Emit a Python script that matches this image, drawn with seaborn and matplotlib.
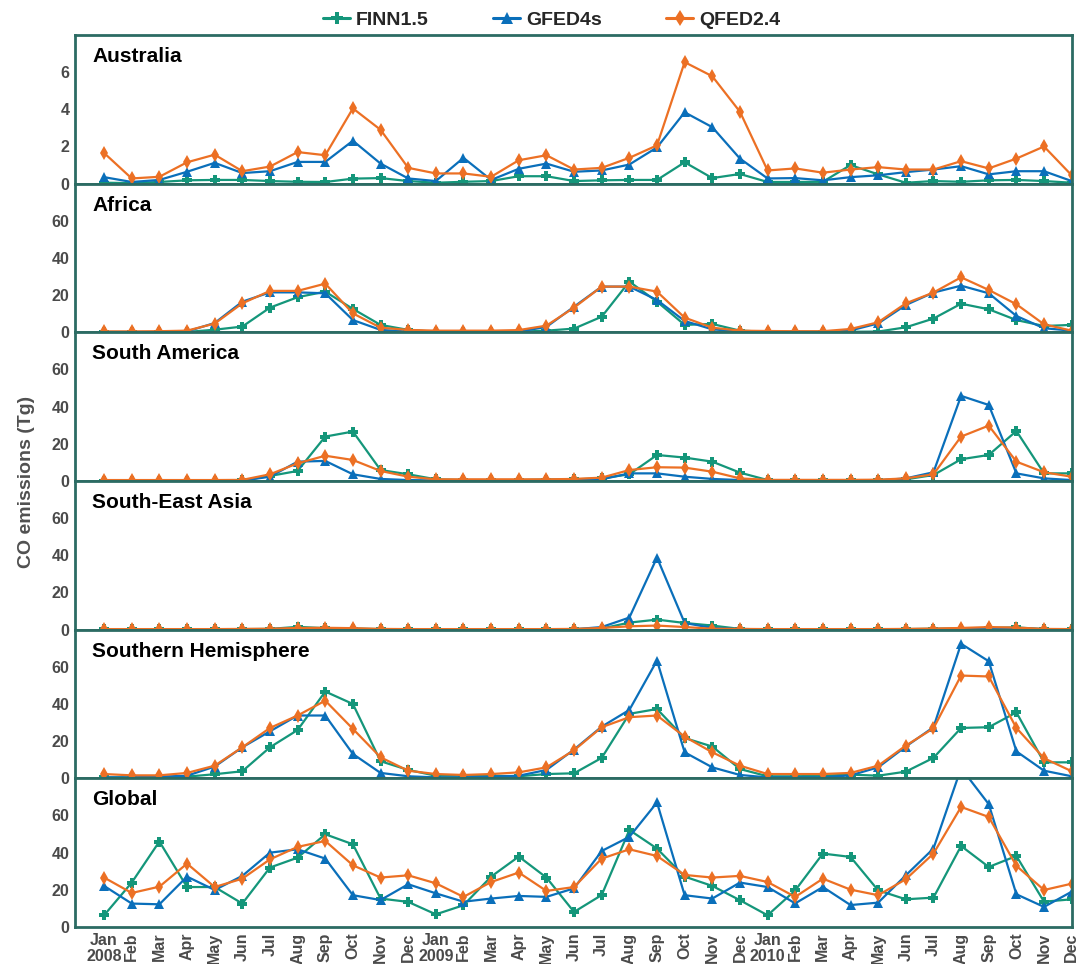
import numpy as np
import pandas as pd
import matplotlib
matplotlib.use("Agg")
import matplotlib.pyplot as plt
import seaborn as sns

# ---- data: monthly CO emissions (Tg), Jan 2008 - Dec 2010 ----
months = ["Jan", "Feb", "Mar", "Apr", "May", "Jun",
          "Jul", "Aug", "Sep", "Oct", "Nov", "Dec"]
years = [2008, 2009, 2010]
datasets = ["FINN1.5", "GFED4s", "QFED2.4"]
regions = ["Australia", "Africa", "South America", "South-East Asia",
           "Southern Hemisphere", "Global"]

finn_aus = [0.05, 0.03, 0.09, 0.18, 0.2, 0.2, 0.14, 0.1, 0.09, 0.27, 0.3, 0.14,
            0.05, 0.1, 0.14, 0.4, 0.4, 0.14, 0.18, 0.2, 0.2, 1.15, 0.3, 0.52,
            0.09, 0.09, 0.1, 1.0, 0.5, 0.05, 0.14, 0.1, 0.18, 0.2, 0.14, 0.05]
gfed_aus = [0.35, 0.09, 0.2, 0.64, 1.12, 0.57, 0.67, 1.17, 1.17, 2.31, 1.08, 0.28,
            0.14, 1.39, 0.2, 0.8, 1.08, 0.64, 0.71, 1.03, 1.95, 3.84, 3.04, 1.35,
            0.28, 0.3, 0.18, 0.35, 0.45, 0.62, 0.76, 0.94, 0.5, 0.67, 0.67, 0.14]
qfed_aus = [1.65, 0.28, 0.37, 1.15, 1.56, 0.67, 0.92, 1.7, 1.53, 4.05, 2.9, 0.85,
            0.55, 0.55, 0.37, 1.26, 1.53, 0.76, 0.85, 1.39, 2.06, 6.54, 5.78, 3.87,
            0.71, 0.82, 0.59, 0.76, 0.89, 0.76, 0.76, 1.21, 0.82, 1.35, 2.0, 0.45]

finn_afr = [0.1, 0.1, 0.1, 0.2, 1.4, 3.1, 13.3, 18.9, 21.9, 12.6, 4.0, 1.3,
            0.3, 0.3, 0.3, 0.3, 0.9, 2.0, 8.4, 27.3, 16.5, 4.0, 4.5, 0.9,
            0.3, 0.3, 0.3, 0.3, 0.4, 2.7, 7.4, 15.4, 12.4, 6.6, 3.4, 4.0]
gfed_afr = [0.2, 0.2, 0.2, 0.5, 5.0, 16.5, 21.5, 21.5, 21.0, 6.6, 1.3, 0.4,
            0.2, 0.2, 0.2, 0.4, 2.9, 13.8, 24.6, 24.6, 17.4, 6.1, 1.6, 0.5,
            0.2, 0.2, 0.2, 1.0, 4.8, 14.7, 21.4, 25.1, 21.0, 8.8, 2.2, 0.9]
qfed_afr = [0.5, 0.5, 0.6, 0.9, 4.7, 15.6, 22.3, 22.3, 26.2, 10.2, 2.5, 1.3,
            0.9, 0.9, 0.9, 1.2, 3.6, 13.3, 24.6, 24.6, 21.9, 7.9, 2.5, 0.9,
            0.7, 0.6, 0.6, 1.8, 5.4, 15.6, 21.4, 29.6, 22.8, 15.1, 4.3, 0.9]

finn_sam = [0.2, 0.2, 0.2, 0.2, 0.2, 0.3, 2.7, 5.4, 23.9, 26.6, 5.9, 3.6,
            0.9, 0.5, 0.5, 0.5, 0.8, 0.9, 1.4, 3.6, 14.0, 12.6, 10.4, 4.5,
            0.5, 0.4, 0.4, 0.4, 0.5, 0.9, 3.2, 11.7, 14.0, 26.9, 4.1, 4.1]
gfed_sam = [0.1, 0.1, 0.1, 0.1, 0.1, 0.2, 2.3, 10.4, 10.8, 3.6, 1.1, 0.5,
            0.3, 0.2, 0.2, 0.2, 0.3, 0.5, 0.9, 4.1, 4.1, 2.3, 1.1, 0.5,
            0.2, 0.2, 0.2, 0.2, 0.3, 1.4, 4.7, 45.8, 40.9, 4.1, 1.4, 0.5]
qfed_sam = [0.5, 0.5, 0.5, 0.5, 0.5, 0.6, 3.6, 9.5, 13.6, 11.3, 5.4, 2.3,
            0.9, 0.9, 0.9, 0.9, 0.9, 1.1, 1.8, 5.9, 7.4, 7.2, 5.0, 1.4,
            0.6, 0.6, 0.6, 0.6, 0.7, 1.4, 3.6, 23.9, 29.8, 10.4, 4.7, 2.3]

finn_sea = [0.1, 0.1, 0.1, 0.1, 0.2, 0.3, 0.4, 1.5, 0.8, 0.6, 0.3, 0.2,
            0.1, 0.1, 0.1, 0.1, 0.2, 0.3, 0.6, 3.8, 5.4, 3.6, 2.2, 0.4,
            0.1, 0.1, 0.1, 0.1, 0.2, 0.3, 0.5, 0.6, 0.9, 1.2, 0.3, 0.1]
gfed_sea = [0.1, 0.1, 0.1, 0.1, 0.1, 0.2, 0.3, 0.6, 0.6, 0.4, 0.2, 0.1,
            0.1, 0.1, 0.1, 0.1, 0.1, 0.2, 1.4, 6.5, 38.8, 3.6, 0.9, 0.3,
            0.1, 0.1, 0.1, 0.1, 0.1, 0.2, 0.3, 0.4, 0.8, 0.9, 0.2, 0.1]
qfed_sea = [0.3, 0.3, 0.3, 0.3, 0.3, 0.4, 0.5, 0.9, 1.0, 0.8, 0.4, 0.3,
            0.3, 0.3, 0.3, 0.3, 0.3, 0.4, 0.9, 1.8, 2.2, 1.4, 0.5, 0.4,
            0.3, 0.3, 0.3, 0.3, 0.3, 0.4, 0.6, 0.9, 1.4, 1.1, 0.4, 0.3]

finn_sh = [0.5, 0.5, 0.5, 0.9, 2.2, 3.8, 16.7, 26.0, 46.7, 40.0, 9.2, 4.5,
           1.4, 1.4, 1.4, 1.1, 2.3, 2.7, 11.0, 34.7, 37.3, 21.7, 17.1, 5.0,
           1.1, 1.1, 1.4, 2.0, 1.4, 3.6, 11.0, 27.1, 27.5, 35.5, 8.6, 8.6]
gfed_sh = [0.5, 0.5, 0.9, 1.4, 6.3, 16.7, 25.3, 33.8, 33.8, 13.1, 2.9, 1.1,
           0.5, 0.5, 0.9, 1.4, 4.5, 15.5, 27.8, 36.8, 63.4, 14.0, 5.9, 1.8,
           0.5, 0.5, 0.5, 1.6, 5.9, 17.1, 27.5, 72.4, 63.0, 14.5, 4.1, 1.1]
qfed_sh = [2.3, 1.6, 1.6, 2.9, 6.8, 16.7, 27.1, 33.8, 41.8, 26.6, 11.3, 4.1,
           2.3, 1.8, 2.3, 3.2, 5.9, 15.1, 27.5, 32.9, 33.8, 22.4, 14.0, 6.8,
           2.3, 2.3, 2.3, 2.9, 6.8, 17.6, 26.9, 55.3, 54.8, 27.1, 10.8, 3.8]

finn_glb = [6.3, 23.9, 46.0, 21.5, 21.5, 12.6, 32.0, 37.3, 49.9, 44.5, 15.3, 13.5,
            6.8, 11.7, 27.1, 37.9, 26.6, 8.1, 17.2, 52.2, 42.2, 27.1, 22.1, 14.4,
            6.3, 19.7, 39.5, 37.7, 19.7, 14.9, 15.8, 43.6, 32.3, 38.2, 13.6, 14.9]
gfed_glb = [22.1, 12.6, 12.2, 27.1, 19.9, 27.5, 40.0, 41.8, 36.8, 17.1, 14.5, 23.0,
            18.1, 13.6, 15.3, 16.7, 16.2, 20.8, 40.9, 48.5, 67.0, 17.1, 15.3, 23.9,
            21.5, 12.7, 21.5, 11.8, 13.1, 27.8, 42.2, 85.5, 66.1, 17.6, 10.8, 19.0]
qfed_glb = [26.6, 18.3, 21.7, 34.1, 21.5, 26.0, 36.4, 43.1, 46.3, 33.2, 26.6, 27.8,
            23.5, 16.2, 24.2, 29.3, 19.4, 21.5, 36.8, 41.8, 38.2, 28.0, 26.6, 27.5,
            24.2, 16.2, 26.0, 20.1, 17.1, 25.7, 39.5, 64.6, 59.2, 32.9, 19.9, 23.3]

series = {
    "Australia": (finn_aus, gfed_aus, qfed_aus),
    "Africa": (finn_afr, gfed_afr, qfed_afr),
    "South America": (finn_sam, gfed_sam, qfed_sam),
    "South-East Asia": (finn_sea, gfed_sea, qfed_sea),
    "Southern Hemisphere": (finn_sh, gfed_sh, qfed_sh),
    "Global": (finn_glb, gfed_glb, qfed_glb),
}

# long-form table
rows = []
for reg in regions:
    for name, vals in zip(datasets, series[reg]):
        for i, v in enumerate(vals):
            rows.append({"region": reg, "dataset": name, "month": i, "co": v})
df = pd.DataFrame(rows)

# ---- style ----
sns.set_theme(style="white")
plt.rcParams["font.family"] = ["Liberation Sans", "DejaVu Sans"]

palette = {"FINN1.5": "#14967a", "GFED4s": "#0a6fba", "QFED2.4": "#ec7024"}
markers = {"FINN1.5": "P", "GFED4s": "^", "QFED2.4": "d"}
frame_color = "#2c6b63"
tick_color = "#4a4a4a"

fig, axes = plt.subplots(6, 1, figsize=(10.88, 9.64), dpi=100, sharex=True)
fig.subplots_adjust(left=0.069, right=0.985, top=0.9637, bottom=0.0384, hspace=0)

handles, labels = None, None
for k, (ax, reg) in enumerate(zip(axes, regions)):
    sub = df[df["region"] == reg]
    sns.lineplot(data=sub, x="month", y="co", hue="dataset", style="dataset",
                 hue_order=datasets, style_order=datasets,
                 palette=palette, markers=markers, dashes=False,
                 linewidth=1.6, markersize=7, markeredgewidth=0,
                 legend=(k == 0), ax=ax)
    if k == 0:
        handles, labels = ax.get_legend_handles_labels()
        ax.get_legend().remove()
    if reg == "Australia":
        ax.set_ylim(0, 8)
        ax.set_yticks([0, 2, 4, 6])
    else:
        ax.set_ylim(0, 80)
        ax.set_yticks([0, 20, 40, 60])
    ax.set_xlim(-1.05, 35)
    ax.set_xlabel("")
    ax.set_ylabel("")
    ax.text(0.017, 0.855, reg, transform=ax.transAxes, fontsize=15,
            fontweight="bold", color="black", va="center", ha="left")
    for s in ax.spines.values():
        s.set_color(frame_color)
        s.set_linewidth(2)
    ax.tick_params(axis="both", length=0, colors=tick_color, labelsize=11.5, pad=4)
    for t in ax.get_yticklabels():
        t.set_fontweight("bold")

# x tick labels: month names, with the year under each January
tick_labels = []
for y in years:
    for m in months:
        tick_labels.append(f"{m}\n{y}" if m == "Jan" else m)
ax = axes[-1]
ax.set_xticks(range(36))
ax.set_xticklabels(tick_labels)
for t, lab in zip(ax.get_xticklabels(), tick_labels):
    t.set_fontweight("bold")
    t.set_color(tick_color)
    t.set_fontsize(11.5)
    if lab.startswith("Jan"):
        t.set_rotation(0)
        t.set_linespacing(1.1)
    else:
        t.set_rotation(90)
    t.set_ha("center")
    t.set_va("top")

fig.text(0.024, 0.5, "CO emissions (Tg)", rotation=90, fontsize=14,
         fontweight="bold", color="#505050", va="center", ha="center")

keep = [(h, l) for h, l in zip(handles, labels) if l in datasets]
leg = fig.legend([h for h, _ in keep], [l for _, l in keep],
                 loc="center", bbox_to_anchor=(0.507, 0.979), ncol=3,
                 frameon=False, prop={"weight": "bold", "size": 14},
                 columnspacing=3.3, handlelength=1.4, handletextpad=0.3,
                 markerscale=1.15)
for line in leg.get_lines():
    line.set_linewidth(2.2)

fig.savefig("out.png", dpi=100)
